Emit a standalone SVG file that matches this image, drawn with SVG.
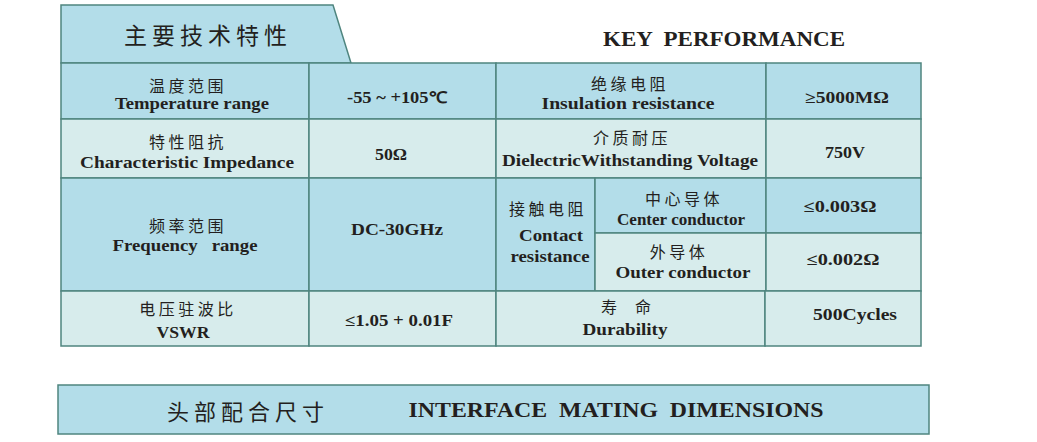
<svg xmlns="http://www.w3.org/2000/svg" width="1037" height="442" viewBox="0 0 1037 442">
<style>
.b{fill:#b3dde9;stroke:#4f857f;stroke-width:1.5}
.l{fill:#d7ecec;stroke:#4f857f;stroke-width:1.5}
.cn{font-family:"Noto Sans CJK SC","Noto Sans",sans-serif;font-size:16px;fill:#231f20;text-anchor:middle;letter-spacing:3.5px}
.en{font-family:"Liberation Serif",serif;font-weight:bold;font-size:16px;fill:#231f20;text-anchor:middle}
.v{font-family:"Liberation Serif",serif;font-weight:bold;font-size:16px;fill:#231f20;text-anchor:middle}
</style>
<rect width="1037" height="442" fill="#ffffff"/>
<g id="title">
<path class="b" d="M61,63 L61,5 L333,5 L351,63 Z"/>
<text x="208" y="44" font-family="Noto Sans CJK SC,sans-serif" font-size="23" fill="#231f20" text-anchor="middle" letter-spacing="5">主要技术特性</text>
<text x="724" y="46" font-family="Liberation Serif,serif" font-weight="bold" font-size="21" fill="#231f20" text-anchor="middle" textLength="242" lengthAdjust="spacingAndGlyphs" xml:space="preserve">KEY  PERFORMANCE</text>
</g>
<g id="row1">
<rect class="b" x="61" y="63" width="248" height="56"/>
<rect class="b" x="309" y="63" width="187" height="56"/>
<rect class="b" x="496" y="63" width="270" height="56"/>
<rect class="b" x="766" y="63" width="155" height="56"/>
<text class="cn" x="188" y="92">温度范围</text>
<text class="en" x="192" y="109" textLength="154" lengthAdjust="spacingAndGlyphs">Temperature range</text>
<text class="v" x="397" y="103" textLength="100" lengthAdjust="spacingAndGlyphs">-55 ~ +105℃</text>
<text class="cn" x="630" y="90">绝缘电阻</text>
<text class="en" x="628" y="109" textLength="173" lengthAdjust="spacingAndGlyphs">Insulation resistance</text>
<text class="v" x="847" y="103" textLength="84" lengthAdjust="spacingAndGlyphs" xml:space="preserve">≥5000MΩ</text>
</g>
<g id="row2">
<rect class="l" x="61" y="119" width="248" height="59"/>
<rect class="l" x="309" y="119" width="187" height="59"/>
<rect class="l" x="496" y="119" width="270" height="59"/>
<rect class="l" x="766" y="119" width="155" height="59"/>
<text class="cn" x="188" y="148">特性阻抗</text>
<text class="en" x="187" y="168" textLength="214" lengthAdjust="spacingAndGlyphs">Characteristic Impedance</text>
<text class="v" x="391" y="160" textLength="32" lengthAdjust="spacingAndGlyphs">50Ω</text>
<text class="cn" x="632" y="144">介质耐压</text>
<text class="en" x="630" y="166" textLength="256" lengthAdjust="spacingAndGlyphs">DielectricWithstanding Voltage</text>
<text class="v" x="845" y="158" textLength="40" lengthAdjust="spacingAndGlyphs">750V</text>
</g>
<g id="row3">
<rect class="b" x="61" y="178" width="248" height="113"/>
<rect class="b" x="309" y="178" width="187" height="113"/>
<rect class="b" x="496" y="178" width="99" height="113"/>
<rect class="b" x="595" y="178" width="171" height="55"/>
<rect class="b" x="766" y="178" width="155" height="55"/>
<rect class="l" x="595" y="233" width="171" height="58"/>
<rect class="l" x="766" y="233" width="155" height="58"/>
<text class="cn" x="548" y="215">接触电阻</text>
<text class="cn" x="188" y="232">频率范围</text>
<text class="en" x="185" y="251" textLength="145" lengthAdjust="spacingAndGlyphs" xml:space="preserve">Frequency   range</text>
<text class="v" x="397" y="235" textLength="92" lengthAdjust="spacingAndGlyphs">DC-30GHz</text>
<text class="en" x="551" y="241" textLength="64" lengthAdjust="spacingAndGlyphs">Contact</text>
<text class="en" x="550" y="262" textLength="79" lengthAdjust="spacingAndGlyphs">resistance</text>
<text class="cn" x="684" y="205">中心导体</text>
<text class="en" x="681" y="225" textLength="128" lengthAdjust="spacingAndGlyphs">Center conductor</text>
<text class="v" x="840" y="212" textLength="73" lengthAdjust="spacingAndGlyphs">≤0.003Ω</text>
<text class="cn" x="679" y="258">外导体</text>
<text class="en" x="683" y="278" textLength="135" lengthAdjust="spacingAndGlyphs">Outer conductor</text>
<text class="v" x="843" y="265" textLength="73" lengthAdjust="spacingAndGlyphs">≤0.002Ω</text>
</g>
<g id="row4">
<rect class="l" x="61" y="291" width="248" height="55"/>
<rect class="l" x="309" y="291" width="187" height="55"/>
<rect class="l" x="496" y="291" width="269" height="55"/>
<rect class="l" x="765" y="291" width="156" height="55"/>
<text class="cn" x="188" y="315">电压驻波比</text>
<text class="en" x="183" y="338" textLength="53" lengthAdjust="spacingAndGlyphs">VSWR</text>
<text class="v" x="399" y="326" textLength="108" lengthAdjust="spacingAndGlyphs">≤1.05 + 0.01F</text>
<text x="626" y="313" font-family="Noto Sans CJK SC,sans-serif" font-size="16" fill="#231f20" text-anchor="middle" xml:space="preserve">寿     命</text>
<text class="en" x="625" y="335" textLength="85" lengthAdjust="spacingAndGlyphs">Durability</text>
<text class="v" x="855" y="320" textLength="84" lengthAdjust="spacingAndGlyphs">500Cycles</text>
</g>
<g id="footer">
<rect class="b" x="58" y="385" width="871" height="49"/>
<text x="248" y="420" font-family="Noto Sans CJK SC,sans-serif" font-size="22" fill="#231f20" text-anchor="middle" letter-spacing="5">头部配合尺寸</text>
<text x="616" y="417" font-family="Liberation Serif,serif" font-weight="bold" font-size="20" fill="#231f20" text-anchor="middle" textLength="415" lengthAdjust="spacingAndGlyphs" xml:space="preserve">INTERFACE  MATING  DIMENSIONS</text>
</g>
<g id="connectors"></g>
</svg>
